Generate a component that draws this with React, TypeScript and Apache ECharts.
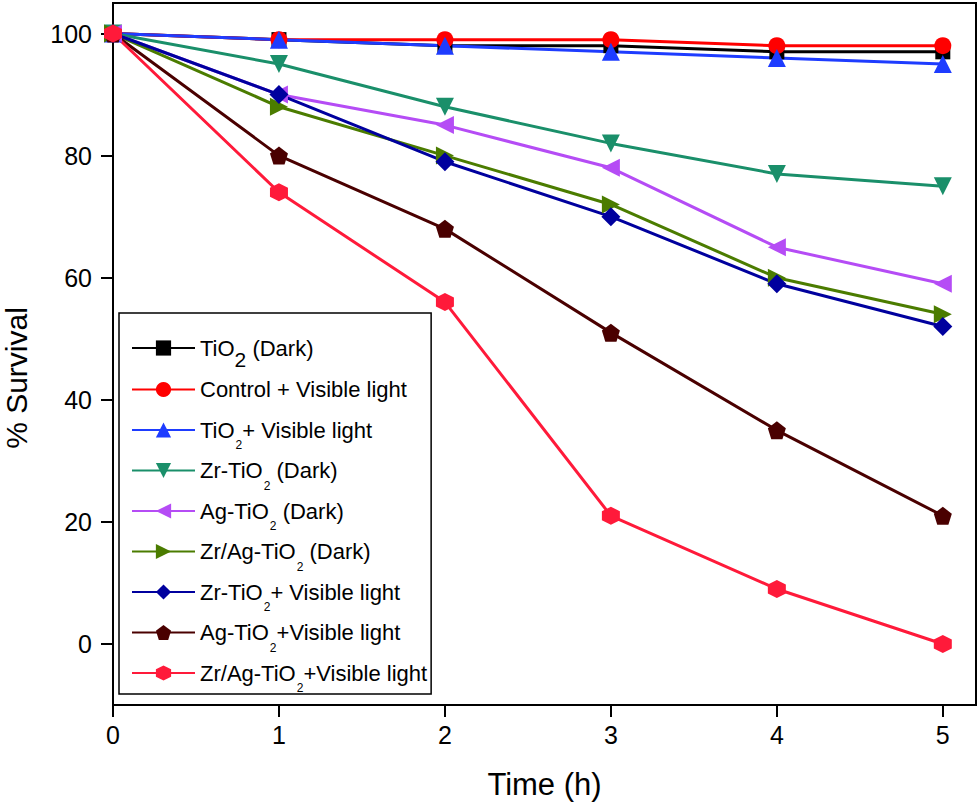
import React, { useEffect, useRef } from "react";
import * as echarts from "echarts";

const times = [0, 1, 2, 3, 4, 5];
const xTicks = [0, 1, 2, 3, 4, 5];
const yTicks = [0, 20, 40, 60, 80, 100];

const tio2Dark = [100, 99, 98, 98, 97, 97];
const controlVis = [100, 99, 99, 99, 98, 98];
const tio2Vis = [100, 99, 98, 97, 96, 95];
const zrTio2Dark = [100, 95, 88, 82, 77, 75];
const agTio2Dark = [100, 90, 85, 78, 65, 59];
const zrAgTio2Dark = [100, 88, 80, 72, 60, 54];
const zrTio2Vis = [100, 90, 79, 70, 59, 52];
const agTio2Vis = [100, 80, 68, 51, 35, 21];
const zrAgTio2Vis = [100, 74, 56, 21, 9, 0];

const seriesNames = [
  "TiO2 (Dark)",
  "Control + Visible light",
  "TiO2+ Visible light",
  "Zr-TiO2 (Dark)",
  "Ag-TiO2 (Dark)",
  "Zr/Ag-TiO2 (Dark)",
  "Zr-TiO2+ Visible light",
  "Ag-TiO2+Visible light",
  "Zr/Ag-TiO2+Visible light",
];

const legendRich: Record<string, string> = {
  "TiO2 (Dark)": "{m|TiO}{big|2}{m| (Dark)}",
  "Control + Visible light": "{m|Control + Visible light}{s| }",
  "TiO2+ Visible light": "{m|TiO}{s|2}{m|+ Visible light}",
  "Zr-TiO2 (Dark)": "{m|Zr-TiO}{s|2}{m| (Dark)}",
  "Ag-TiO2 (Dark)": "{m|Ag-TiO}{s|2}{m| (Dark)}",
  "Zr/Ag-TiO2 (Dark)": "{m|Zr/Ag-TiO}{s|2}{m| (Dark)}",
  "Zr-TiO2+ Visible light": "{m|Zr-TiO}{s|2}{m|+ Visible light}",
  "Ag-TiO2+Visible light": "{m|Ag-TiO}{s|2}{m|+Visible light}",
  "Zr/Ag-TiO2+Visible light": "{m|Zr/Ag-TiO}{s|2}{m|+Visible light}",
};

const PENTAGON = "path://M0,-1 L0.951,-0.309 L0.588,0.809 L-0.588,0.809 L-0.951,-0.309 Z";
const HEXAGON = "path://M0,-1 L0.866,-0.5 L0.866,0.5 L0,1 L-0.866,0.5 L-0.866,-0.5 Z";

const FONT = "'Liberation Sans', Arial, Helvetica, sans-serif";

export default function App() {
  const ref = useRef<HTMLDivElement>(null);
  useEffect(() => {
    if (!ref.current) return;
    const chart = echarts.init(ref.current, null, { renderer: "svg" });
    const datasets = [
      tio2Dark, controlVis, tio2Vis, zrTio2Dark, agTio2Dark,
      zrAgTio2Dark, zrTio2Vis, agTio2Vis, zrAgTio2Vis,
    ];
    const colors = [
      "#000000", "#ff0000", "#1e3cff", "#1a8f6a", "#b54cf5",
      "#4b7c00", "#00009e", "#4a0000", "#ff1a3a",
    ];
    const symbols = ["rect", "circle", "triangle", "triangle", "triangle", "triangle", "diamond", PENTAGON, HEXAGON];
    const rotates = [0, 0, 0, 180, 90, -90, 0, 0, 0];
    const sizes = [15, 17, 18, 18, 18, 18, 19, 18, 18];

    const series = seriesNames.map((name, i) => ({
      name,
      type: "line",
      data: times.map((t, j) => [t, datasets[i][j]]),
      symbol: symbols[i],
      symbolRotate: rotates[i],
      symbolSize: sizes[i],
      showAllSymbol: true,
      lineStyle: { color: colors[i], width: 3 },
      itemStyle: { color: colors[i], borderWidth: 0 },
      emphasis: { disabled: true },
    }));

    chart.setOption({
      animation: false,
      backgroundColor: "#ffffff",
      textStyle: { fontFamily: FONT },
      grid: {
        left: 113,
        right: 4,
        top: 3,
        bottom: 102,
        show: true,
        borderColor: "#000",
        borderWidth: 2,
        containLabel: false,
        outerBoundsMode: "none",
      },
      xAxis: {
        type: "value",
        min: 0,
        max: 5.2,
        name: "Time (h)",
        nameLocation: "middle",
        nameGap: 64,
        nameTextStyle: { fontSize: 31, color: "#000", fontFamily: FONT },
        axisLine: { show: true, onZero: false, lineStyle: { color: "#000", width: 2 } },
        axisTick: { show: true, inside: false, length: 12, lineStyle: { color: "#000", width: 2 }, customValues: xTicks },
        axisLabel: { fontSize: 25, color: "#000", margin: 17, fontFamily: FONT, customValues: xTicks },
        splitLine: { show: false },
      },
      yAxis: {
        type: "value",
        min: -10,
        max: 105,
        name: "% Survival",
        nameLocation: "middle",
        nameGap: 84,
        nameTextStyle: { fontSize: 30, lineHeight: 26, color: "#000", fontFamily: FONT, padding: [0, 48, 0, 0] },
        axisLine: { show: true, onZero: false, lineStyle: { color: "#000", width: 2 } },
        axisTick: { show: true, inside: false, length: 12, lineStyle: { color: "#000", width: 2 }, customValues: yTicks },
        axisLabel: { fontSize: 25, color: "#000", margin: 21, fontFamily: FONT, customValues: yTicks },
        splitLine: { show: false },
      },
      legend: {
        orient: "vertical",
        left: 119,
        top: 313,
        padding: [13, 4, 0, 12],
        itemGap: -1.5,
        itemWidth: 63,
        itemHeight: 19,
        borderColor: "#000",
        borderWidth: 1.5,
        backgroundColor: "#fff",
        selectedMode: false,
        data: seriesNames,
        formatter: (name: string) => legendRich[name] || name,
        textStyle: {
          fontFamily: FONT,
          fontSize: 22,
          color: "#000",
          rich: {
            m: { fontSize: 22, lineHeight: 26, fontFamily: FONT, color: "#000" },
            s: { fontSize: 12, lineHeight: 10, padding: [30, 0, 0, 1], fontFamily: FONT, color: "#000" },
            big: { fontSize: 21, lineHeight: 10, padding: [23, 0, 0, 0], fontFamily: FONT, color: "#000" },
          },
        },
      },
      series,
    });
    return () => chart.dispose();
  }, []);
  return (
    <div
      ref={ref}
      style={{ position: "absolute", left: 0, top: 0, width: 980, height: 807 }}
    />
  );
}
